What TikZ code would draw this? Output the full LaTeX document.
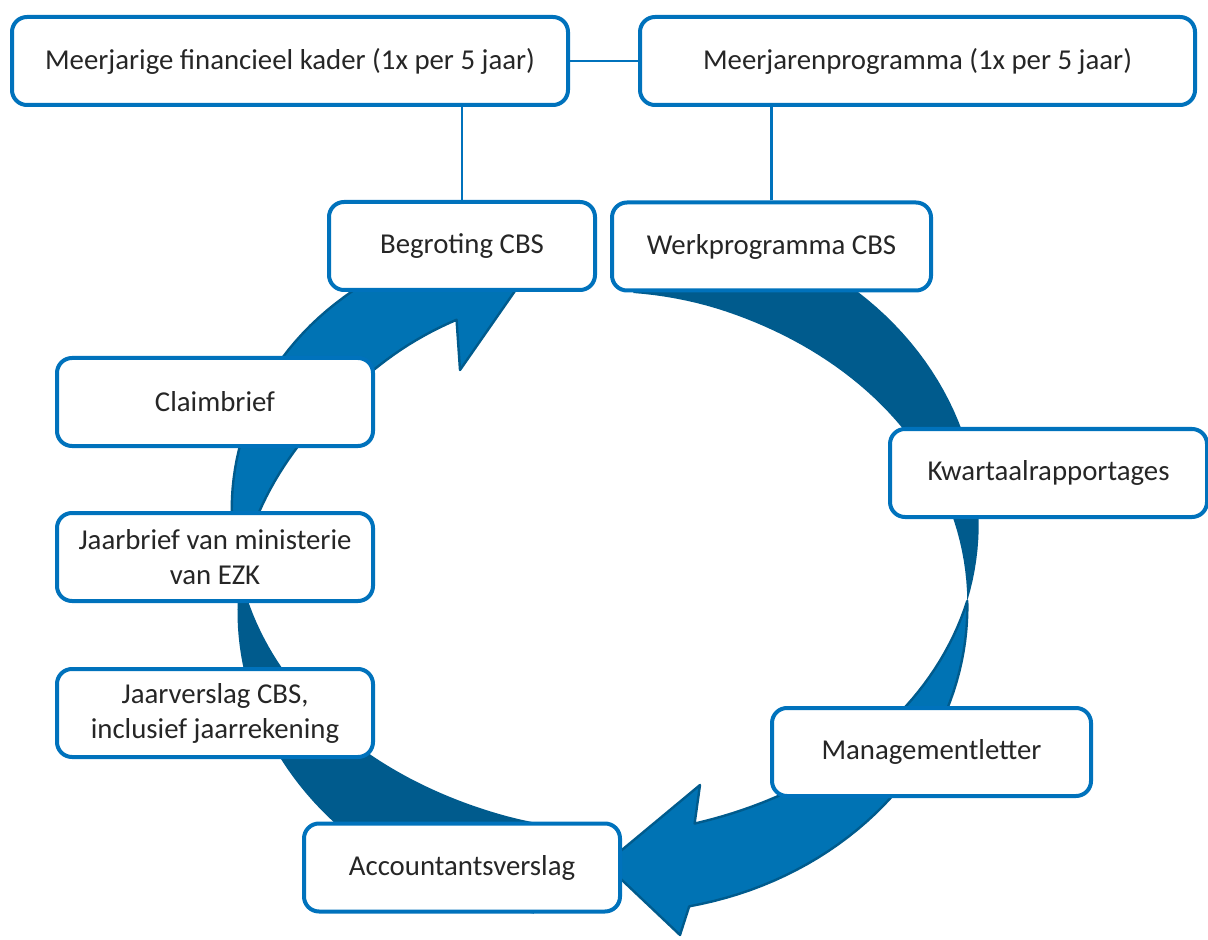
\documentclass[tikz,border=0pt]{standalone}
\usepackage{fontspec}
\setmainfont{Carlito}
\definecolor{boxblue}{RGB}{0,114,188}
\definecolor{arrlight}{RGB}{0,115,180}
\definecolor{arrdark}{RGB}{0,91,141}
\begin{document}
\begin{tikzpicture}[x=0.5pt,y=-0.5pt,
  stap/.style={draw=boxblue,line width=2pt,fill=white,rounded corners=7.5pt,
    minimum height=44pt,align=center,text=black!85,
    font=\fontsize{14.4pt}{17.5pt}\selectfont},
  lijn/.style={draw=boxblue,line width=1.3pt},
  declare function={
    ex(\t,\d)=605+(365+\d)*cos(\t);
    ey(\t,\d)=563+(311+\d)*sin(\t);
    wra(\t)=40*sin(min(90,1.2*(7-\t)));
    wrb(\t)=40*sin(min(90,1.3*(\t-7)));
    wla(\t)=45*sin(min(90,1.3*(178-\t)));
    wlb(\t)=38*sin(min(90,1.8*(\t-178)));
  }]
\useasboundingbox (0,0) rectangle (1208,940);

\fill[arrdark] plot[domain=-85:7,samples=50] ({ex(\x,wra(\x))},{ey(\x,wra(\x))})
  -- plot[domain=7:-85,samples=50] ({ex(\x,-wra(\x))},{ey(\x,-wra(\x))}) -- cycle;
\filldraw[fill=arrlight,draw=arrdark,line width=1.2pt,line join=round]
  plot[domain=7:74,samples=40] ({ex(\x,-wrb(\x))},{ey(\x,-wrb(\x))})
  -- (700,785) -- (605,864) -- (680,935)
  -- plot[domain=78:7,samples=40] ({ex(\x,wrb(\x))},{ey(\x,wrb(\x))}) -- cycle;

\fill[arrdark] plot[domain=100:178,samples=50] ({ex(\x,wla(\x))},{ey(\x,wla(\x))})
  -- plot[domain=178:100,samples=50] ({ex(\x,-wla(\x))},{ey(\x,-wla(\x))}) -- cycle;
\filldraw[fill=arrlight,draw=arrdark,line width=1.2pt,line join=round]
  plot[domain=178:243,samples=40] ({ex(\x,-wlb(\x))},{ey(\x,-wlb(\x))})
  -- (460,370) -- (540,255) -- (420,212)
  -- plot[domain=243:178,samples=40] ({ex(\x,wlb(\x))},{ey(\x,wlb(\x))}) -- cycle;

\node[stap,minimum width=278pt] (kader) at (290,61) {Meerjarige financieel kader (1x per 5 jaar)};
\node[stap,minimum width=277.5pt] (progr) at (917.5,61) {Meerjarenprogramma (1x per 5 jaar)};
\node[stap,minimum width=133pt] (begr) at (462,246) {Begroting CBS};
\node[stap,minimum width=159.5pt] (werk) at (771.5,246.5) {Werkprogramma CBS};
\node[stap,minimum width=158pt] (claim) at (215,402) {Claimbrief};
\node[stap,minimum width=158.5pt] (kwart) at (1048.5,473) {Kwartaalrapportages};
\node[stap,minimum width=158pt] (jaarbr) at (215,557) {Jaarbrief van ministerie\\van EZK};
\node[stap,minimum width=158pt] (jaarv) at (215,713) {Jaarverslag CBS,\\inclusief jaarrekening};
\node[stap,minimum width=159.5pt] (mgmt) at (931.5,752) {Managementletter};
\node[stap,minimum width=158pt] (acc) at (462,867.5) {Accountantsverslag};

\draw[lijn] (kader) -- (progr);
\draw[lijn] (begr.north) -- (begr.north |- kader.south);
\draw[lijn] (werk.north) -- (werk.north |- progr.south);
\end{tikzpicture}
\end{document}
